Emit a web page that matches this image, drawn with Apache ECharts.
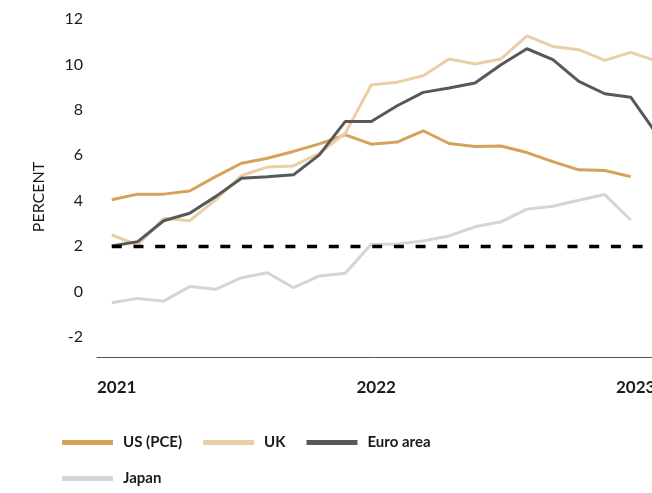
<!DOCTYPE html>
<html>
<head>
<meta charset="utf-8">
<style>
  html, body { margin: 0; padding: 0; background: #fff; }
  #chart { width: 652px; height: 493px; }
</style>
<script src="https://cdn.jsdelivr.net/npm/echarts@6/dist/echarts.min.js"></script>
</head>
<body>
<div id="chart"></div>
<script>
// Headline inflation, year-on-year, percent (one observation per period)
const seriesNames = ['US (PCE)', 'UK', 'Euro area', 'Japan'];

const usPce = [4.04, 4.29, 4.29, 4.43, 5.06, 5.65, 5.87, 6.17, 6.50, 6.90, 6.49,
  6.58, 7.08, 6.52, 6.39, 6.41, 6.12, 5.72, 5.36, 5.33, 5.06];
const uk = [2.49, 2.05, 3.23, 3.12, 4.04, 5.11, 5.48, 5.53, 6.09, 6.97, 9.10,
  9.22, 9.50, 10.24, 10.02, 10.24, 11.26, 10.79, 10.65, 10.18, 10.53, 10.15];
const euroArea = [2.01, 2.20, 3.12, 3.45, 4.18, 4.99, 5.06, 5.14, 6.02, 7.49, 7.49,
  8.18, 8.77, 8.96, 9.18, 9.99, 10.69, 10.21, 9.25, 8.71, 8.56, 6.94];
const japan = [-0.49, -0.30, -0.42, 0.22, 0.10, 0.61, 0.83, 0.17, 0.69, 0.81, 2.08,
  2.10, 2.23, 2.45, 2.85, 3.07, 3.63, 3.76, 4.02, 4.27, 3.15];

// Inflation target
const targetRate = 2;

// Axis labels
const yearLabels = ['2021', '2022', '2023'];
const yTicks = [-2, 0, 2, 4, 6, 8, 10, 12];

// Observations sit a little to the right of the first year mark;
// the visible window ends part-way through the last period
const firstObsOffset = 0.57;
const xMax = 21.39;
const toPoints = arr => arr.map((v, i) => [i + firstObsOffset, v]);

const colors = ['#D5A25C', '#EBCFA4', '#58585A', '#D5D5D7'];
const fontFamily = 'Lato, "Open Sans", sans-serif';

const chart = echarts.init(document.getElementById('chart'), null, { renderer: 'canvas' });

const lineSeries = [usPce, uk, euroArea, japan].map((arr, k) => ({
  name: seriesNames[k],
  type: 'line',
  data: toPoints(arr),
  symbol: 'none',
  clip: false,
  z: k === 2 ? 4 : 3,
  lineStyle: { width: 3, color: colors[k] },
  itemStyle: { color: colors[k] }
}));

lineSeries.push({
  name: 'target',
  type: 'line',
  data: [],
  markLine: {
    silent: true,
    symbol: 'none',
    label: { show: false },
    lineStyle: { color: '#000', width: 3.3, type: [10, 11.7] },
    data: [[{ coord: [firstObsOffset, targetRate] }, { coord: [xMax, targetRate] }]]
  }
});

chart.setOption({
  animation: false,
  color: colors,
  grid: {
    left: 97, right: 0, top: 19, bottom: 136,
    containLabel: false,
    outerBoundsMode: 'none'
  },
  xAxis: {
    type: 'value',
    min: 0,
    max: xMax,
    interval: 10,
    axisLine: { show: true, onZero: false, lineStyle: { color: '#555', width: 1 } },
    axisTick: { show: false },
    splitLine: { show: false },
    axisLabel: {
      show: true,
      align: 'left',
      margin: 22,
      showMaxLabel: false,
      hideOverlap: false,
      color: '#1a1a1a',
      fontFamily: fontFamily,
      fontSize: 17,
      fontWeight: 'bold',
      formatter: v => (v % 10 === 0 && yearLabels[v / 10]) ? yearLabels[v / 10] : ''
    }
  },
  yAxis: {
    type: 'value',
    min: -2.88,
    max: 12,
    axisLine: { show: false },
    axisTick: { show: false },
    splitLine: { show: false },
    axisLabel: {
      customValues: yTicks,
      margin: 14,
      color: '#1a1a1a',
      fontFamily: fontFamily,
      fontSize: 16,
      padding: [4, 0, 0, 0]
    }
  },
  legend: {
    data: seriesNames,
    left: 57,
    top: 430,
    width: 420,
    icon: 'rect',
    itemWidth: 51,
    itemHeight: 5,
    itemGap: 21,
    textStyle: {
      color: '#1a1a1a',
      fontFamily: fontFamily,
      fontSize: 15,
      fontWeight: 'bold',
      padding: [0, 0, 0, 5]
    }
  },
  graphic: [{
    type: 'text',
    x: 39,
    y: 197,
    rotation: Math.PI / 2,
    style: {
      text: 'PERCENT',
      fill: '#1a1a1a',
      font: '16px ' + fontFamily,
      align: 'center',
      verticalAlign: 'middle'
    }
  }],
  series: lineSeries
});
</script>
</body>
</html>
